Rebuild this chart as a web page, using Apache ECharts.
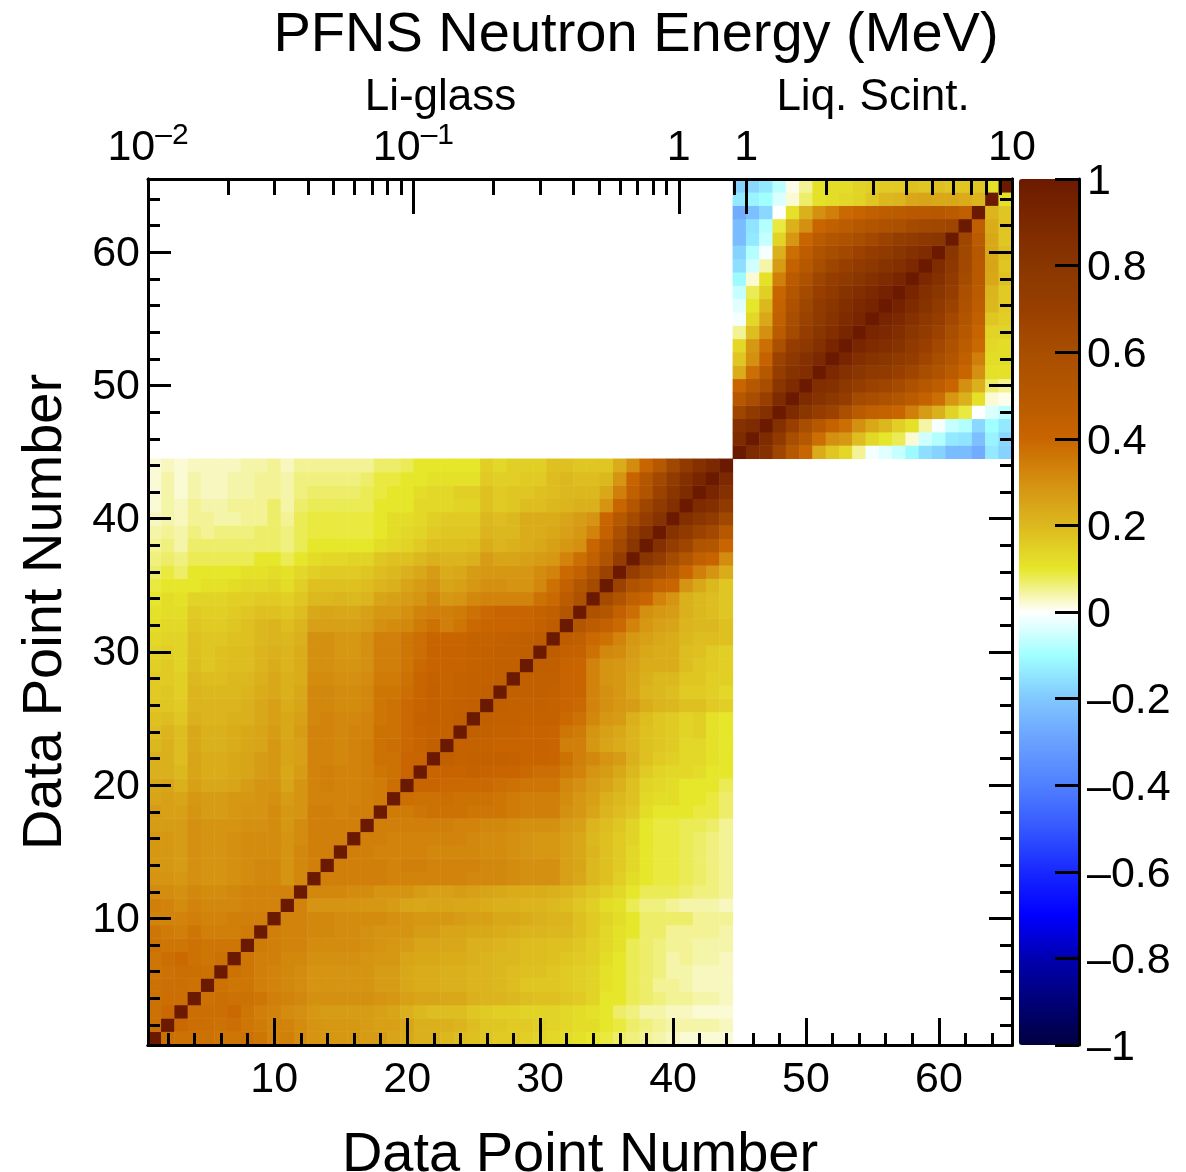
<!DOCTYPE html>
<html>
<head>
<meta charset="utf-8">
<style>html,body{margin:0;padding:0;background:#fff}#c{width:1186px;height:1172px}</style>
<script src="https://cdn.jsdelivr.net/npm/echarts@6/dist/echarts.min.js"></script>
</head>
<body>
<div id="c"></div>
<script>
// Correlation x 100, lower triangle. Row i holds x = 1..i (y = i).
const liGlassRows = [
[100],
[38,100],
[37,39,100],
[37,38,38,100],
[37,38,38,37,100],
[36,37,38,38,37,100],
[36,38,39,37,36,37,100],
[37,36,36,37,36,36,36,100],
[36,35,34,36,34,34,34,35,100],
[33,33,33,34,33,33,34,34,34,100],
[34,33,31,33,32,32,32,33,33,33,100],
[31,31,30,32,31,31,32,33,33,33,33,100],
[29,29,28,30,29,29,30,31,32,32,29,32,100],
[28,28,27,30,29,29,30,31,32,32,29,32,34,100],
[28,28,27,30,29,29,30,31,31,31,29,32,34,34,100],
[28,28,27,30,29,29,30,31,31,31,29,31,34,34,34,100],
[27,27,27,30,29,29,29,30,30,31,28,31,34,34,34,34,100],
[27,26,26,29,27,27,28,29,29,31,28,29,34,34,33,34,34,100],
[25,26,25,28,27,27,28,28,29,30,27,29,33,33,33,33,34,35,100],
[24,25,22,26,24,24,25,27,29,29,25,29,33,34,33,33,34,35,38,100],
[22,22,20,25,23,23,24,25,27,28,24,27,33,34,33,33,34,36,37,40,100],
[22,22,19,25,23,23,24,25,27,28,25,26,33,33,32,33,34,37,37,40,40,100],
[20,22,19,24,22,22,23,24,25,28,25,26,33,33,32,33,34,37,38,39,41,44,100],
[19,21,19,24,22,22,23,24,25,27,24,27,33,33,32,33,33,37,37,39,41,42,42,100],
[18,19,17,22,21,21,22,22,24,26,24,26,32,33,32,32,33,36,37,39,42,43,42,44,100],
[17,17,16,21,21,21,21,22,24,26,23,25,32,32,31,31,32,36,37,39,41,43,42,43,44,100],
[16,17,15,21,20,20,20,21,23,24,22,24,32,32,31,31,32,36,36,38,40,43,41,42,43,44,100],
[16,16,15,20,19,19,20,20,22,24,22,23,31,31,30,30,31,35,35,37,40,42,41,42,43,43,44,100],
[15,16,14,19,17,18,19,19,21,23,21,23,30,30,29,29,30,34,34,36,39,41,41,41,42,43,44,44,100],
[14,15,14,18,17,18,19,19,21,22,21,23,30,30,28,28,30,34,34,36,38,41,41,41,42,43,44,44,45,100],
[13,14,14,18,17,17,18,18,20,21,20,22,30,30,28,28,30,34,34,36,38,40,40,40,42,42,43,44,45,46,100],
[12,13,13,17,16,16,17,18,20,21,19,21,26,26,26,26,27,30,31,32,35,37,34,36,39,40,40,40,41,43,46,100],
[11,12,12,16,15,15,16,17,18,18,17,19,24,25,24,24,26,28,28,30,33,34,34,35,37,39,40,40,40,42,45,52,100],
[10,12,11,14,14,14,15,15,16,16,15,17,20,20,21,20,21,25,26,27,29,32,28,29,32,33,33,33,33,37,39,47,56,100],
[9,10,10,10,11,11,12,13,13,14,12,15,18,18,18,18,19,21,22,25,27,29,25,26,28,30,30,29,29,32,37,43,52,62,100],
[7,9,7,10,10,10,10,11,11,12,11,13,15,16,16,16,17,19,20,22,24,27,23,24,27,28,28,28,28,31,33,39,43,54,68,100],
[6,7,6,8,8,8,8,8,10,10,8,10,12,13,13,14,14,17,18,18,20,22,21,21,22,27,25,25,26,27,28,33,38,44,55,72,100],
[5,6,4,7,7,7,7,7,7,7,6,8,10,10,10,10,10,12,13,14,16,18,18,18,19,23,21,22,23,24,26,28,30,40,50,64,80,100],
[4,5,4,6,5,6,6,6,7,7,6,8,9,9,9,9,9,10,12,13,14,16,17,17,17,21,20,20,23,23,24,26,28,33,42,58,72,84,100],
[3,4,3,5,5,4,4,5,5,7,5,8,9,9,9,9,9,10,12,12,13,15,16,16,16,20,19,20,23,23,23,25,27,29,40,50,62,72,82,100],
[2,4,3,5,4,4,5,5,5,7,4,7,8,8,8,8,8,10,10,10,13,13,13,14,14,18,16,17,19,19,20,21,22,22,29,40,52,66,76,85,100],
[2,4,2,4,3,3,4,4,5,5,4,6,7,7,7,7,8,9,10,10,12,13,13,15,15,18,16,17,17,18,19,20,20,20,24,34,44,54,68,80,88,100],
[2,4,2,4,3,3,4,4,5,5,4,6,6,6,6,6,7,9,9,10,10,11,11,11,11,16,15,15,16,16,19,20,19,19,20,29,41,52,64,75,85,92,100],
[2,3,2,3,3,3,3,4,4,5,3,5,5,5,5,5,5,7,7,8,10,10,10,10,10,15,13,15,15,15,18,18,17,17,17,23,31,40,50,65,76,84,90,100]
];
const liqScintRows = [
[100],
[88,100],
[84,88,100],
[66,76,84,100],
[50,60,70,88,100],
[40,50,60,80,88,100],
[23,38,50,72,82,86,100],
[17,30,42,68,78,84,90,100],
[13,28,38,58,72,78,84,92,100],
[5,19,30,48,62,72,80,86,92,100],
[-1,13,24,44,60,68,76,82,88,92,100],
[-3,10,20,42,56,66,74,80,86,90,93,100],
[-6,8,15,40,52,62,70,76,82,86,90,94,100],
[-11,2,11,34,48,56,66,72,76,80,84,88,92,100],
[-16,-5,4,27,42,50,60,66,70,74,78,82,85,90,100],
[-18,-8,-1,22,38,46,55,60,64,68,72,76,80,84,87,100],
[-23,-14,-6,14,28,40,48,53,56,60,64,68,72,75,78,80,100],
[-23,-15,-8,9,22,30,40,44,47,50,53,56,58,62,64,65,66,100],
[-27,-22,-17,0,11,22,30,34,39,41,44,46,48,49,49,50,48,45,100],
[-14,-12,-10,-4,2,7,11,12,13,14,17,20,21,24,25,24,24,23,21,100],
[-18,-17,-14,-7,1,5,11,12,12,14,15,16,16,18,17,18,17,17,17,11,100]
];
const pointNumbers = Array.from({length:65},(_,i)=>String(i+1));
const liMajorMeV = [0.01,0.1,1];
const liMinorMeV = [0.02,0.03,0.04,0.05,0.06,0.07,0.08,0.09,0.2,0.3,0.4,0.5,0.6,0.7,0.8,0.9];
const lqMajorMeV = [1,10];
const lqMinorMeV = [0.9,2,3,4,5,6,7,8,9];
const colorStops = ['#000040','#000078','#0000b0','#0000ff','#1828ff','#3458ff','#5080ff','#6aa0ff','#80c8ff','#a0ffff','#ffffff',
 '#e6e62a','#dcb81f','#d49010','#c96500','#b65800','#a84e00','#983f00','#8a3600','#7c2800','#6b1a00'];

const cells = [];
function addBlock(rows, offset){
  rows.forEach((row,r)=>row.forEach((v,c)=>{
    cells.push([c+offset,r+offset,v/100]);
    if(c!==r) cells.push([r+offset,c+offset,v/100]);
  }));
}
addBlock(liGlassRows,0);
addBlock(liqScintRows,44);

const FONT='"Liberation Sans", Arial, Helvetica, sans-serif';
const INK='#000';
const even=(i,v)=>(+v)%2===0;
const tens=(i,v)=>(+v)%10===0;
const catX=(o)=>Object.assign({type:'category',gridIndex:0,data:pointNumbers,boundaryGap:true,z:10,
  axisLine:{show:true,onZero:false,lineStyle:{color:INK,width:3}},axisLabel:{show:false},splitLine:{show:false}},o);
const catY=catX;
const tick=(len,fn)=>({show:true,alignWithLabel:true,inside:true,length:len,interval:fn,lineStyle:{color:INK,width:3}});
const lbl=(fn,m,extra)=>Object.assign({show:true,interval:fn,color:INK,fontSize:43,fontFamily:FONT,margin:m,showMinLabel:true,showMaxLabel:true},extra);
const logAxis=(grid,min,max,ticks,len,o)=>Object.assign({type:'log',logBase:10,gridIndex:grid,min,max,position:'top',z:11,
  axisLine:{show:false,onZero:false},splitLine:{show:false},minorTick:{show:false},minorSplitLine:{show:false},
  axisLabel:{show:false},axisTick:{show:true,inside:true,length:len,customValues:ticks,lineStyle:{color:INK,width:3}}},o);
const hiddenY=(grid)=>({type:'value',gridIndex:grid,show:false,min:0,max:1});
const rich={b:{fontSize:43,fontFamily:FONT,color:INK,padding:[12,0,0,0]},s:{fontSize:30,fontFamily:FONT,color:INK,padding:[0,0,14,0]}};
const fmtEnergy=(v)=>{
  if(v<0.05) return '{b|10}{s|\u20132}';
  if(v<0.5) return '{b|10}{s|\u20131}';
  return Math.abs(v-1)<1e-6?'{b|1}':'{b|10}';
};
const gridBase={top:179,height:866,outerBoundsMode:'none',containLabel:false};
const option={
  animation:false,
  backgroundColor:'#fff',
  title:{text:'PFNS Neutron Energy (MeV)',left:631,top:3,textAlign:'center',
    textStyle:{fontFamily:FONT,fontWeight:'normal',fontSize:56,color:INK}},
  grid:[
    Object.assign({left:148,width:864},gridBase),
    Object.assign({left:148,width:585},gridBase),
    Object.assign({left:734,width:278},gridBase),
    Object.assign({left:1019,width:60},gridBase)
  ],
  xAxis:[
    catX({position:'bottom',name:'Data Point Number',nameLocation:'middle',nameGap:83,
      nameTextStyle:{fontFamily:FONT,fontSize:56,color:INK},axisTick:tick(12,even)}),
    catX({position:'bottom',axisTick:tick(27,tens),axisLabel:lbl(tens,14,{})}),
    catX({position:'top',axisTick:{show:false}}),
    logAxis(1,0.01,1.6,liMinorMeV,16,{}),
    logAxis(1,0.01,1.6,liMajorMeV,35,{name:'Li-glass',nameLocation:'middle',nameGap:59,nameMoveOverlap:false,
      nameTextStyle:{fontFamily:FONT,fontSize:44,color:INK},
      axisLabel:{show:true,customValues:liMajorMeV,formatter:fmtEnergy,rich,margin:9,hideOverlap:false,showMinLabel:true,showMaxLabel:true}}),
    logAxis(2,0.9,10,lqMinorMeV,16,{}),
    logAxis(2,0.9,10,lqMajorMeV,35,{name:'Liq. Scint.',nameLocation:'middle',nameGap:59,nameMoveOverlap:false,
      nameTextStyle:{fontFamily:FONT,fontSize:44,color:INK},
      axisLabel:{show:true,customValues:lqMajorMeV,formatter:fmtEnergy,rich,margin:9,hideOverlap:false,showMinLabel:true,showMaxLabel:true}}),
    {type:'value',gridIndex:3,show:false,min:0,max:1}
  ],
  yAxis:[
    catY({position:'left',name:'Data Point Number',nameLocation:'middle',nameGap:74,nameRotate:90,
      nameTextStyle:{fontFamily:FONT,fontSize:56,color:INK},axisTick:tick(12,even)}),
    catY({position:'left',axisTick:tick(23,tens),axisLabel:lbl(tens,8,{verticalAlign:'top',lineHeight:3})}),
    catY({position:'right',axisTick:tick(12,even)}),
    catY({position:'right',axisTick:tick(23,tens)}),
    hiddenY(1),hiddenY(2),
    {type:'value',gridIndex:3,min:-1,max:1,interval:0.2,position:'right',z:10,
     axisLine:{show:true,onZero:false,lineStyle:{color:INK,width:3}},splitLine:{show:false},
     axisTick:{show:true,inside:true,length:24,lineStyle:{color:INK,width:3}},
     axisLabel:{color:INK,fontSize:43,fontFamily:FONT,margin:8,verticalAlign:'top',lineHeight:6,showMinLabel:true,showMaxLabel:true,
       formatter:(v)=>{const r=Math.round(v*10)/10;return r<0?'\u2013'+(-r):String(r);}}}
  ],
  visualMap:{type:'continuous',min:-1,max:1,seriesIndex:0,calculable:false,realtime:false,hoverLink:false,
    left:1019,top:179,itemWidth:60,itemHeight:866,padding:0,text:null,showLabel:false,
    inRange:{color:colorStops},textStyle:{color:'transparent',fontSize:1}},
  series:[{type:'heatmap',xAxisIndex:0,yAxisIndex:0,data:cells,progressive:0,silent:true,
    emphasis:{disabled:true},itemStyle:{borderWidth:0}}]
};
const chart=echarts.init(document.getElementById('c'),null,{renderer:'canvas'});
chart.setOption(option);
</script>
</body>
</html>
